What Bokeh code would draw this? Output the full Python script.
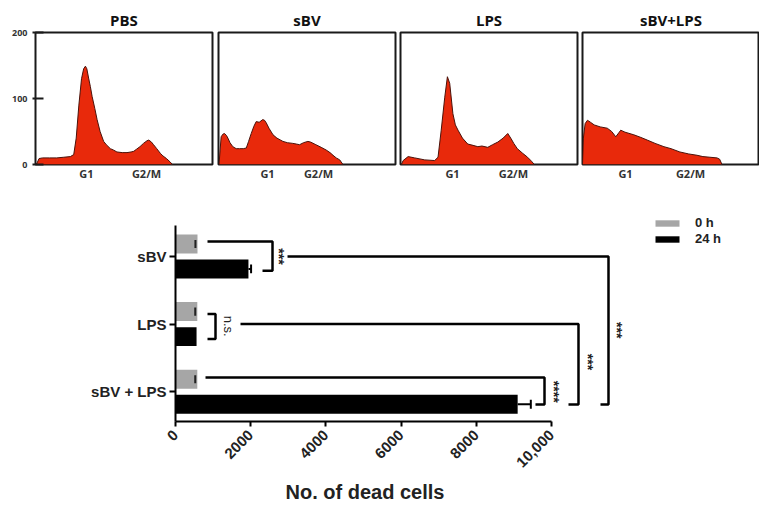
import math
from bokeh.plotting import figure
from bokeh.layouts import column, row
from bokeh.models import ColumnDataSource, FixedTicker, Range1d, Legend, LegendItem, Title
from bokeh.core.properties import value
from bokeh.embed import file_html
from bokeh.resources import INLINE

# ---------------- data: DNA content histograms ----------------
panel_titles = ["PBS", "sBV", "LPS", "sBV+LPS"]

pbs_x = [0.5, 2, 4, 8, 12, 16, 19.7, 21.6, 23, 24.5, 26, 27.2, 28.2, 29, 30, 31, 32, 33.5, 34.8, 36.5,
         38.5, 40, 42.3, 44, 46, 49, 51.7, 54, 55.5, 57, 59, 61, 63, 64, 65.5, 66.7, 68.5, 70.5, 72, 74, 76, 77.4]
pbs_y = [0, 9, 10, 10, 10, 11, 12, 15, 40, 90, 130, 145, 149, 145, 131, 118, 103, 85, 68, 50,
         35, 30, 24, 22, 19, 18, 18, 19, 20, 23, 27, 32, 36, 37, 34, 30, 24, 17, 13, 9, 4, 0]

sbv_x = [0.3, 1, 1.5, 2.5, 3.4, 4.5, 5.3, 6.5, 8.1, 10, 11.9, 14, 15.7, 17, 18.5, 20, 21.3, 23, 25, 26,
         27, 28.5, 30.8, 33, 36.4, 39, 42, 44, 45.8, 48, 50.5, 52, 55, 58, 60.8, 63, 64.7, 66.5, 68.5, 70.3]
sbv_y = [0, 25, 42, 46, 47, 44, 40, 33, 27, 24, 24, 24, 25, 35, 47, 58, 65, 64, 68, 67,
         63, 55, 45, 40, 35, 33, 32, 31, 30, 33, 35, 34, 30, 26, 22, 18, 14, 10, 7, 0]

lps_x = [0.5, 1.5, 4.3, 8, 13.7, 19.3, 21.2, 23, 25, 26.5, 27.8, 29.6, 31, 32.5, 35, 38, 41, 43.7, 46, 49.3,
         52, 55, 58, 60.6, 62.5, 64, 66, 69, 71.8, 74, 75.6]
lps_y = [0, 6, 12, 10, 7, 6, 11, 52, 102, 133, 123, 77, 60, 52, 40, 31, 29, 27, 28, 26,
         30, 34, 40, 47, 39, 32, 24, 17, 11, 5, 0]

combo_x = [0, 0.5, 1.5, 2.8, 4.5, 6.6, 10, 14, 16.5, 18.8, 20.5, 21.6, 24, 29, 33, 36.6, 41, 46, 50, 55,
           60, 64.7, 68, 72, 76, 77.5, 78.8]
combo_y = [0, 40, 62, 67, 64, 60, 57, 55, 50, 42, 48, 52, 49, 45, 41, 37, 32, 27, 24, 19,
           16, 14, 12, 11, 10, 8, 0]

hist_x = [pbs_x, sbv_x, lps_x, combo_x]
hist_y = [pbs_y, sbv_y, lps_y, combo_y]

phase_ticks = [[28.8, 62.7], [27.7, 56.5], [29.4, 63.8], [24.3, 61.0]]
phase_labels = ["G1", "G2/M"]
count_ticks = [0, 100, 200]

# ---------------- data: dead cells ----------------
categories = ["sBV", "LPS", "sBV + LPS"]
dead_0h = [585, 580, 580]
dead_24h = [1940, 560, 9100]
err_0h = [55, 55, 55]
err_24h = [70, 0, 350]
x_ticks = [0, 2000, 4000, 6000, 8000, 10000]
x_tick_labels = ["0", "2000", "4000", "6000", "8000", "10,000"]

RED = "#e8290b"
EDGE = "#4a120a"
GRAY = "#a6a6a6"
TOPFONT = "Open Sans"
BOTFONT = "Liberation Sans"

# ---------------- top row ----------------
widths = [215, 182, 182, 180]
lefts = [35, 3, 3, 3]
rights = [3, 2, 2, 0]
tops = []
for i in range(4):
    f = figure(width=widths[i], height=190, x_range=Range1d(0, 100), y_range=Range1d(0, 200),
               output_backend="svg", toolbar_location=None,
               min_border_left=lefts[i], min_border_right=rights[i],
               min_border_top=32, min_border_bottom=26,
               y_axis_location="left" if i == 0 else None)
    f.title.text = panel_titles[i]
    f.title.align = "center"
    f.title.text_font = TOPFONT
    f.title.text_font_size = "15px"
    f.title.text_font_style = "bold"
    f.title.text_color = "#111111"
    f.title.standoff = 5
    f.xgrid.visible = False
    f.ygrid.visible = False
    f.outline_line_color = "#1a1a1a"
    f.outline_line_width = 2
    f.varea(x=hist_x[i], y1=[0] * len(hist_x[i]), y2=hist_y[i], fill_color=RED)
    f.line(hist_x[i], hist_y[i], line_color=EDGE, line_width=1)
    f.xaxis.ticker = FixedTicker(ticks=phase_ticks[i])
    f.xaxis.major_label_overrides = {phase_ticks[i][k]: phase_labels[k] for k in range(2)}
    f.xaxis.axis_line_color = None
    f.xaxis.major_tick_line_color = None
    f.xaxis.minor_tick_line_color = None
    f.xaxis.major_label_text_font = TOPFONT
    f.xaxis.major_label_text_font_size = "11px"
    f.xaxis.major_label_text_font_style = "bold"
    f.xaxis.major_label_text_color = "#333333"
    f.xaxis.major_label_standoff = -5
    if i == 0:
        f.yaxis.ticker = FixedTicker(ticks=count_ticks)
        f.yaxis.axis_line_color = None
        f.yaxis.minor_tick_line_color = None
        f.yaxis.major_tick_line_color = "#1a1a1a"
        f.yaxis.major_tick_line_width = 2
        f.yaxis.major_tick_in = 8
        f.yaxis.major_tick_out = 3
        f.yaxis.major_label_text_font = TOPFONT
        f.yaxis.major_label_text_font_size = "9px"
        f.yaxis.major_label_text_font_style = "bold"
        f.yaxis.major_label_text_color = "#333333"
        f.yaxis.major_label_standoff = 5
    tops.append(f)

# ---------------- bottom bar chart ----------------
n = len(categories)
ypos = [n - k for k in range(n)]
off = 0.185
bar_h = 0.28
y0 = [y + off for y in ypos]
y24 = [y - off for y in ypos]

p = figure(width=759, height=315, x_range=Range1d(0, 15532), y_range=Range1d(0.56, 3.65),
           output_backend="svg", toolbar_location=None,
           min_border_left=175, min_border_right=0, min_border_top=22, min_border_bottom=83)
p.xgrid.visible = False
p.ygrid.visible = False
p.outline_line_color = None

src0 = ColumnDataSource(dict(y=y0, v=dead_0h))
src24 = ColumnDataSource(dict(y=y24, v=dead_24h))
r0 = p.hbar(y="y", right="v", left=0, height=bar_h, source=src0, fill_color=GRAY, line_color=None)
r24 = p.hbar(y="y", right="v", left=0, height=bar_h, source=src24, fill_color="black", line_color=None)

# error bars
cap0 = 0.06
p.segment(x0=[v - e for v, e in zip(dead_0h, err_0h)], y0=[y - cap0 for y in y0],
          x1=[v - e for v, e in zip(dead_0h, err_0h)], y1=[y + cap0 for y in y0],
          line_color="#222222", line_width=2)
for v, e, y in zip(dead_24h, err_24h, y24):
    if e > 0:
        p.segment(x0=[v], y0=[y], x1=[v + e], y1=[y], line_color="black", line_width=2)
        p.segment(x0=[v + e], y0=[y - 0.065], x1=[v + e], y1=[y + 0.065], line_color="black", line_width=2)

# significance brackets: (top y, bottom y, top start x, bottom start x, right x, text, text x, text y)
brackets = [
    (3.22, 2.79, 851, 2314, 2580, "***", 2750, 3.0),
    (2.15, 1.78, 851, 851, 1064, "n.s.", 1400, 1.97),
    (1.21, 0.81, 798, 9574, 9814, "****", 10070, 1.0),
    (2.0, 0.81, 1729, 10452, 10718, "***", 10970, 1.44),
    (3.0, 0.81, 2979, 11303, 11516, "***", 11750, 1.91),
]
for yt, yb, xts, xbs, xr, txt, tx, ty in brackets:
    p.line([xts, xr, xr, xbs], [yt, yt, yb, yb], line_color="black", line_width=2.5)
    is_ns = txt == "n.s."
    p.text(x=[tx], y=[ty], text=[txt], angle=-math.pi / 2, text_align="center", text_baseline="middle",
           text_font=value(BOTFONT), text_font_size="13px" if is_ns else "14px",
           text_font_style="normal" if is_ns else "bold", text_color="#222222")

# axes
p.yaxis.ticker = FixedTicker(ticks=ypos)
p.yaxis.major_label_overrides = {ypos[k]: categories[k] for k in range(n)}
p.yaxis.bounds = (0.56, 3.46)
p.yaxis.axis_line_width = 2
p.yaxis.axis_line_color = "black"
p.yaxis.major_tick_line_width = 2
p.yaxis.major_tick_in = 0
p.yaxis.major_tick_out = 6
p.yaxis.minor_tick_line_color = None
p.yaxis.major_label_text_font = BOTFONT
p.yaxis.major_label_text_font_size = "15px"
p.yaxis.major_label_text_font_style = "bold"
p.yaxis.major_label_text_color = "#222222"
p.yaxis.major_label_standoff = 3

p.xaxis.ticker = FixedTicker(ticks=x_ticks)
p.xaxis.major_label_overrides = {x_ticks[k]: x_tick_labels[k] for k in range(len(x_ticks))}
p.xaxis.bounds = (0, 10000)
p.xaxis.axis_line_width = 2
p.xaxis.axis_line_color = "black"
p.xaxis.major_tick_line_width = 2
p.xaxis.major_tick_in = 0
p.xaxis.major_tick_out = 5
p.xaxis.minor_tick_line_color = None
p.xaxis.major_label_orientation = math.pi / 4
p.xaxis.major_label_text_font = BOTFONT
p.xaxis.major_label_text_font_size = "15px"
p.xaxis.major_label_text_font_style = "bold"
p.xaxis.major_label_text_color = "#222222"
p.xaxis.major_label_standoff = 6

xlabel = Title(text="No. of dead cells", align="left", offset=110, standoff=6,
               text_font=BOTFONT, text_font_size="20px", text_font_style="bold", text_color="#222222")
p.add_layout(xlabel, "below")

legend = Legend(items=[LegendItem(label="0 h", renderers=[r0]), LegendItem(label="24 h", renderers=[r24])],
                location=(477, 175), glyph_width=30, glyph_height=8, label_standoff=13, spacing=1,
                padding=0, margin=0, border_line_alpha=0, background_fill_alpha=0,
                label_text_font=BOTFONT, label_text_font_size="13px", label_text_font_style="bold",
                label_text_color="#222222")
p.add_layout(legend)

layout = column(row(*tops, spacing=0), p, spacing=0)
open("out.html", "w").write(file_html(layout, INLINE))
